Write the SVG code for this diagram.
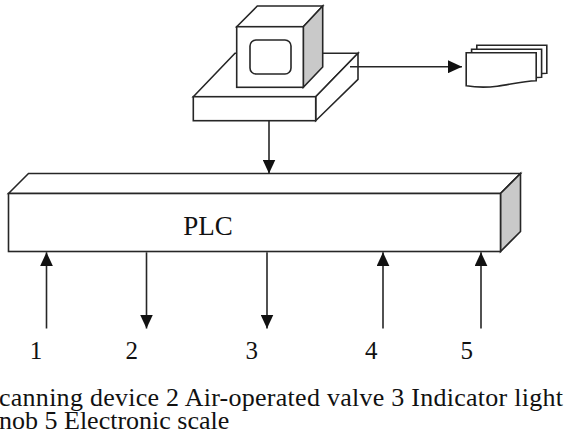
<svg xmlns="http://www.w3.org/2000/svg" width="568" height="441" viewBox="0 0 568 441">
  <style>
    .face { fill: #ffffff; stroke: #262626; stroke-width: 1.6; stroke-linejoin: miter; }
    .side { fill: #c9c9c9; stroke: #262626; stroke-width: 1.6; stroke-linejoin: miter; }
    .wire { fill: none; stroke: #262626; stroke-width: 1.6; }
    .lbl { font-family: "Liberation Serif", "Times New Roman", serif; fill: #111111; }
  </style>
  <defs>
    <marker id="arrow" viewBox="0 0 14 13" refX="14" refY="6.5" markerWidth="14" markerHeight="13" markerUnits="userSpaceOnUse" orient="auto">
      <path d="M0,0 L14,6.5 L0,13 Z" fill="#111111"/>
    </marker>
    <path id="sheet" d="M0,0 H70 V28 C56,28.5 43,32 31,33.5 C19,35 9,34.5 0,33 Z"/>
  </defs>

  <rect width="568" height="441" fill="#ffffff"/>

  <!-- workstation: base slab with monitor on top -->
  <g id="computer">
    <polygon class="face" points="193.3,96.7 235,53.3 358,53.3 315.7,96.7"/>
    <polygon class="face" points="315.7,96.7 358,53.3 358,79.3 315.7,120.7"/>
    <rect class="face" x="193.3" y="96.7" width="122.4" height="24"/>
    <polygon class="face" points="236.7,26.7 257.3,6 322.7,6 303.3,26.7"/>
    <polygon class="side" points="303.3,26.7 322.7,6 322.7,67 303.3,87.3"/>
    <rect class="face" x="236.7" y="26.7" width="66.6" height="60.6"/>
    <rect class="face" x="250" y="40" width="41" height="34" rx="6" ry="6"/>
  </g>

  <!-- printed output: stacked sheets -->
  <g id="printout">
    <use href="#sheet" class="face" transform="translate(476.8,45.3)"/>
    <use href="#sheet" class="face" transform="translate(471.6,49.2)"/>
    <use href="#sheet" class="face" transform="translate(466.2,52.7)"/>
  </g>

  <!-- PLC cabinet -->
  <g id="plc">
    <polygon class="face" points="8.5,193.5 28.5,173.5 520.5,173.5 500.5,193.5"/>
    <polygon class="side" points="500.5,193.5 520.5,173.5 520.5,231.5 500.5,251.5"/>
    <rect class="face" x="8.5" y="193.5" width="492" height="58"/>
    <text class="lbl" x="208" y="234.5" font-size="27" text-anchor="middle" fill="#1a1a1a">PLC</text>
  </g>

  <!-- signal connectors -->
  <g id="connectors">
    <line class="wire" x1="269" y1="120.7" x2="269" y2="173.5" marker-end="url(#arrow)"/>
    <line class="wire" x1="350" y1="66.7" x2="462" y2="66.7" marker-end="url(#arrow)"/>
    <line class="wire" x1="46.5" y1="328.5" x2="46.5" y2="252.3" marker-end="url(#arrow)"/>
    <line class="wire" x1="146.5" y1="252.3" x2="146.5" y2="328.5" marker-end="url(#arrow)"/>
    <line class="wire" x1="267" y1="252.3" x2="267" y2="328.5" marker-end="url(#arrow)"/>
    <line class="wire" x1="383" y1="328.5" x2="383" y2="252.3" marker-end="url(#arrow)"/>
    <line class="wire" x1="481" y1="328.5" x2="481" y2="252.3" marker-end="url(#arrow)"/>
  </g>

  <!-- device numbers -->
  <g id="numbers" class="lbl" font-size="25" text-anchor="middle">
    <text x="36" y="359">1</text>
    <text x="131.7" y="359">2</text>
    <text x="251.7" y="359">3</text>
    <text x="371.3" y="359">4</text>
    <text x="466.7" y="359">5</text>
  </g>

  <!-- legend, two lines in one text block -->
  <g id="caption" class="lbl" font-size="26">
    <text x="-1" y="406"><tspan x="-1" y="406" textLength="564" lengthAdjust="spacing">canning device 2 Air-operated valve 3 Indicator light</tspan><tspan x="-1" y="428.5">nob 5 Electronic scale</tspan></text>
  </g>
</svg>
